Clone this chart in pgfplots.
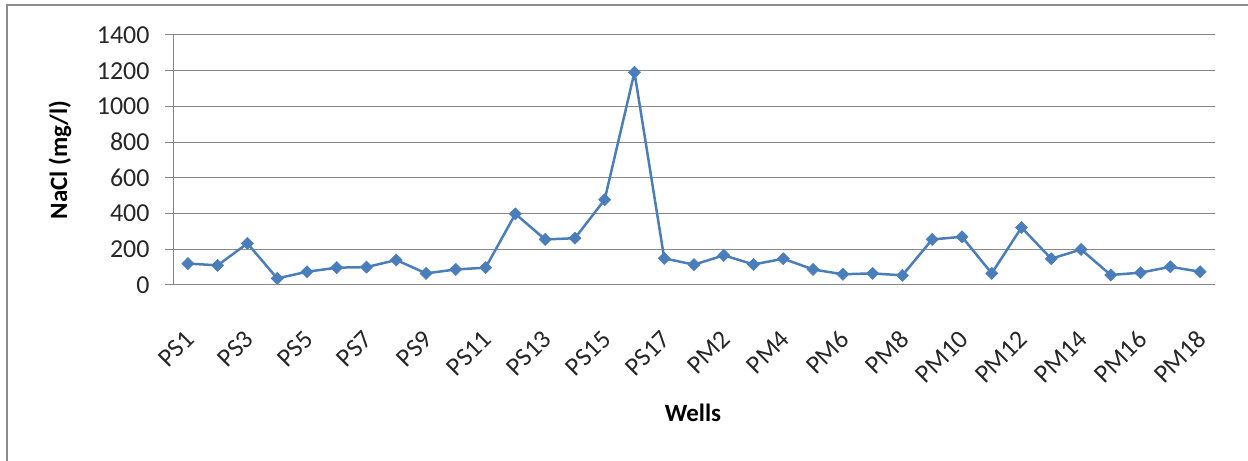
\documentclass[border=0pt]{standalone}
\usepackage{fontspec}
\setmainfont{Carlito}
\usepackage{pgfplots}
\pgfplotsset{compat=1.18}
\definecolor{lineblue}{HTML}{4A7EBB}
\definecolor{gridgray}{HTML}{878787}
\definecolor{framegray}{HTML}{8C8C8C}

\begin{document}
\begin{tikzpicture}[x=1bp,y=1bp]
\useasboundingbox (0,0) rectangle (1248,461);
% chart area frame (top and left edges visible)
\draw[framegray, line width=2bp] (7,-5) -- (7,456) -- (1252,456);
\begin{axis}[
    at={(173bp,176bp)}, anchor=south west,
    scale only axis,
    width=1042bp, height=250bp,
    xmin=-0.5, xmax=34.5,
    ymin=0, ymax=1400,
    ytick={0,200,...,1400},
    xtick={0,2,...,34},
    xticklabels={PS1,PS3,PS5,PS7,PS9,PS11,PS13,PS15,PS17,PM2,PM4,PM6,PM8,PM10,PM12,PM14,PM16,PM18},
    axis lines*=left,
    axis line style={draw=gridgray, line width=1bp},
    ymajorgrids,
    grid style={draw=gridgray, line width=1bp},
    tick align=outside,
    major tick length=8bp,
    ytick style={draw=gridgray, line width=1bp},
    xtick style={draw=none},
    /pgf/number format/assume math mode=true,
    /pgf/number format/1000 sep={},
    tick label style={font=\fontsize{26}{30}\selectfont, text=black!85},
    yticklabel style={xshift=-12bp},
    xticklabel style={rotate=45, anchor=east, yshift=-31bp, xshift=-25bp},
    xlabel={Wells},
    ylabel={NaCl (mg/l)},
    every axis x label/.style={at={(axis description cs:0.499,-0.512)}, anchor=center,
        font=\fontsize{25}{30}\selectfont\bfseries},
    every axis y label/.style={at={(axis description cs:-0.1084,0.5)}, rotate=90, anchor=center,
        font=\fontsize{25}{30}\selectfont\bfseries},
    clip=false,
]
\addplot[lineblue, line width=2.5bp, mark=square*, mark size=4.3bp,
    mark options={rotate=45, fill=lineblue, draw=lineblue, line width=0.5bp}]
coordinates {
(0,120) (1,110) (2,233) (3,37) (4,74) (5,97) (6,100) (7,140) (8,65) (9,87)
(10,97) (11,398) (12,255) (13,262) (14,478) (15,1191) (16,149)
(17,114) (18,166) (19,115) (20,147) (21,87) (22,60) (23,65) (24,54)
(25,255) (26,270) (27,65) (28,322) (29,147) (30,199) (31,56) (32,69)
(33,102) (34,74)
};
\end{axis}
\end{tikzpicture}
\end{document}
